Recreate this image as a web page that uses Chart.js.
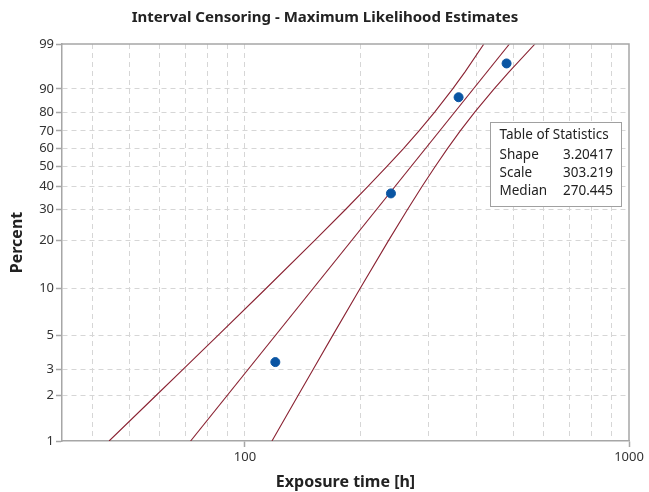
<!DOCTYPE html>
<html>
<head>
<meta charset="utf-8">
<script src="https://cdn.jsdelivr.net/npm/chart.js@4.4.1/dist/chart.umd.min.js"></script>
<style>
  html, body { margin: 0; padding: 0; background: #fff; }
  #wrap { width: 649px; height: 492px; }
</style>
</head>
<body>
<div id="wrap"><canvas id="c" width="649" height="492"></canvas></div>
<script>
// Observed (Turnbull) points
const obsHours = [120, 240, 360, 480];
const obsPercent = [3.34, 36.8, 86.8, 96.7];

// Fitted Weibull line (end points)
const fitHours = [72.2, 488.4];
const fitPercent = [1, 99];

// 95% confidence bounds
const boundPercent = [1, 2, 3, 5, 10, 20, 30, 40, 50, 60, 70, 80, 90, 95, 99];
const upperBoundHours = [44.3, 58.6, 69.1, 85.1, 113.3, 152.2, 182.5, 209.1, 234.0, 258.7, 284.0, 311.9, 347.5, 374.2, 419.0];
const lowerBoundHours = [117.6, 137.4, 150.6, 169.3, 199.3, 236.9, 264.8, 289.1, 312.6, 336.7, 363.6, 396.6, 445.4, 487.3, 569.2];

// Axes
const yTickValues = [1, 2, 3, 5, 10, 20, 30, 40, 50, 60, 70, 80, 90, 99];
const xGridValues = [40, 50, 60, 70, 80, 90, 100, 200, 300, 400, 500, 600, 700, 800, 900, 1000];
const xTickLabels = [100, 1000];

// Titles and statistics table
const chartTitle = 'Interval Censoring - Maximum Likelihood Estimates';
const statTitle = 'Table of Statistics';
const statLabels = ['Shape', 'Scale', 'Median'];
const statValues = ['3.20417', '303.219', '270.445'];

const FONT = '"Noto Sans", "Open Sans", sans-serif';
const AXIS_GREY = '#a6a6a6';
const GRID_GREY = '#d6d6d6';
const CURVE = '#8a2232';

// Weibull probability transform: ln(-ln(1 - p))
const wb = p => Math.log(-Math.log(1 - p / 100));

class WeibullScale extends Chart.Scale {
  static id = 'weibull';
  static defaults = {};
  determineDataLimits() {
    this.min = this.options.min;
    this.max = this.options.max;
  }
  buildTicks() {
    return yTickValues.map(v => ({ value: v }));
  }
  configure() {
    super.configure();
    this._t0 = wb(this.min);
    this._tRange = wb(this.max) - this._t0;
  }
  getLabelForValue(v) { return String(v); }
  getPixelForValue(v) {
    return this.getPixelForDecimal((wb(v) - this._t0) / this._tRange);
  }
  getValueForPixel(px) {
    const t = this._t0 + this.getDecimalForPixel(px) * this._tRange;
    return 100 * (1 - Math.exp(-Math.exp(t)));
  }
}
Chart.register(WeibullScale);

const toXY = (xs, ys) => xs.map((x, i) => ({ x: x, y: ys[i] }));

const framePlugin = {
  id: 'frame',
  afterDraw(chart) {
    const ctx = chart.ctx;
    const a = chart.chartArea;
    ctx.save();

    // chart title
    ctx.fillStyle = '#222222';
    ctx.font = 'bold 15px ' + FONT;
    ctx.textAlign = 'center';
    ctx.textBaseline = 'middle';
    ctx.fillText(chartTitle, 325, 18);

    // top and right edges of the plot frame
    ctx.strokeStyle = AXIS_GREY;
    ctx.lineWidth = 1.5;
    ctx.beginPath();
    ctx.moveTo(a.left, a.top);
    ctx.lineTo(a.right, a.top);
    ctx.lineTo(a.right, a.bottom);
    ctx.stroke();

    // statistics table
    const bx = 490.5, by = 122.5, bw = 131, bh = 84;
    ctx.fillStyle = '#ffffff';
    ctx.fillRect(bx, by, bw, bh);
    ctx.strokeStyle = '#a0a0a0';
    ctx.lineWidth = 1;
    ctx.strokeRect(bx, by, bw, bh);
    ctx.fillStyle = '#222222';
    ctx.font = '13.5px ' + FONT;
    ctx.textBaseline = 'middle';
    ctx.textAlign = 'left';
    ctx.fillText(statTitle, bx + 9, by + 13);
    statLabels.forEach((lab, i) => {
      const yy = by + 32.5 + i * 18;
      ctx.textAlign = 'left';
      ctx.fillText(lab, bx + 9, yy);
      ctx.textAlign = 'right';
      ctx.fillText(statValues[i], bx + bw - 8.5, yy);
    });
    ctx.restore();
  }
};

const curveStyle = {
  showLine: true,
  borderColor: CURVE,
  borderWidth: 1.1,
  pointRadius: 0,
  tension: 0
};

const chart = new Chart(document.getElementById('c'), {
  type: 'scatter',
  data: {
    datasets: [
      {
        label: 'Data',
        data: toXY(obsHours, obsPercent),
        pointRadius: 4.5,
        pointHoverRadius: 4.5,
        pointBackgroundColor: '#0a55a3',
        pointBorderColor: '#0a55a3',
        showLine: false
      },
      Object.assign({ label: 'Fit', data: toXY(fitHours, fitPercent) }, curveStyle),
      Object.assign({ label: 'Upper bound', data: toXY(upperBoundHours, boundPercent) }, curveStyle),
      Object.assign({ label: 'Lower bound', data: toXY(lowerBoundHours, boundPercent) }, curveStyle)
    ]
  },
  options: {
    responsive: false,
    animation: false,
    events: [],
    layout: { padding: { left: 0, right: 20, top: 44, bottom: 0 } },
    plugins: {
      legend: { display: false },
      tooltip: { enabled: false },
      title: { display: false }
    },
    scales: {
      x: {
        type: 'logarithmic',
        min: 33.4,
        max: 1000,
        afterBuildTicks: s => { s.ticks = xGridValues.map(v => ({ value: v, major: xTickLabels.includes(v) })); },
        afterFit: s => { s.height = 51; },
        ticks: {
          autoSkip: false,
          maxRotation: 0,
          padding: 2,
          color: '#333333',
          font: { family: FONT, size: 13 },
          callback: v => (xTickLabels.includes(v) ? String(v) : '')
        },
        grid: {
          color: c => (c.tick && c.tick.value >= 1000 ? 'rgba(0,0,0,0)' : GRID_GREY),
          lineWidth: 1,
          tickLength: 6,
          tickColor: c => (c.tick && xTickLabels.includes(c.tick.value) ? AXIS_GREY : 'rgba(0,0,0,0)'),
          tickWidth: 1.5
        },
        border: { display: true, color: AXIS_GREY, width: 1.5, dash: [5, 4] },
        title: {
          display: true,
          text: 'Exposure time [h]',
          color: '#222222',
          font: { family: FONT, size: 16, weight: 'bold', lineHeight: 1.2 },
          padding: { top: 0, bottom: 0.4 }
        }
      },
      y: {
        type: 'weibull',
        min: 1,
        max: 99,
        afterFit: s => { s.width = 62; },
        ticks: {
          autoSkip: false,
          padding: 2,
          color: '#333333',
          font: { family: FONT, size: 13 },
          callback: v => String(v)
        },
        grid: {
          color: c => (c.tick && (c.tick.value === 1 || c.tick.value === 99) ? 'rgba(0,0,0,0)' : GRID_GREY),
          lineWidth: 1,
          tickLength: 6,
          tickColor: AXIS_GREY,
          tickWidth: 1.5
        },
        border: { display: true, color: AXIS_GREY, width: 1.5, dash: [5, 4] },
        title: {
          display: true,
          text: 'Percent',
          color: '#222222',
          font: { family: FONT, size: 16, weight: 'bold', lineHeight: 1.2 },
          padding: { top: 7.4, bottom: 0 }
        }
      }
    }
  },
  plugins: [framePlugin]
});
</script>
</body>
</html>
